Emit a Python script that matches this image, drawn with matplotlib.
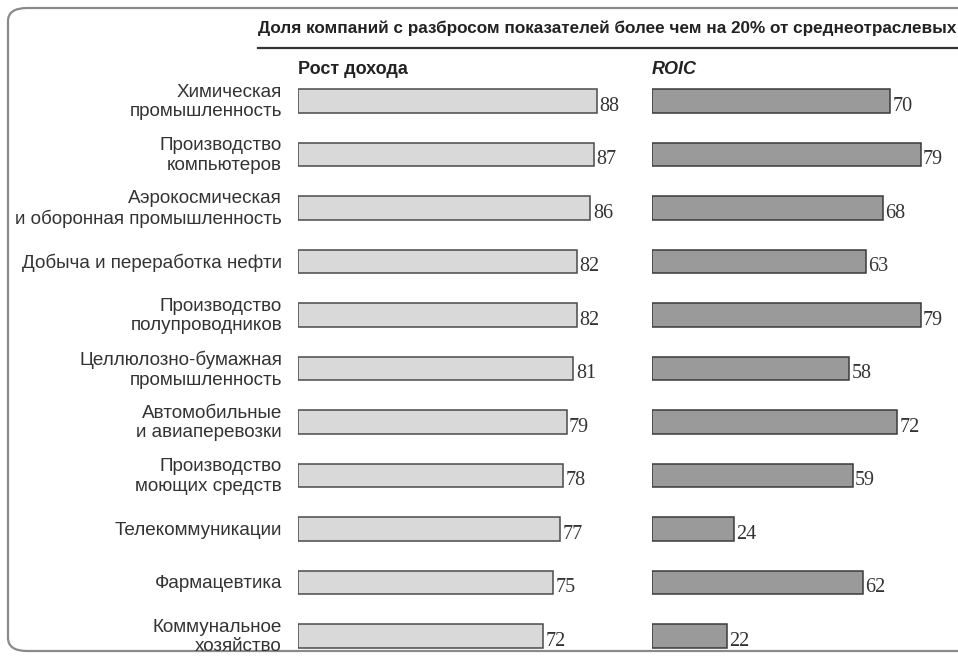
import matplotlib
matplotlib.use("Agg")
from matplotlib import pyplot as plt
from matplotlib.patches import FancyBboxPatch
from matplotlib.transforms import blended_transform_factory

industries = [
    "Химическая\nпромышленность",
    "Производство\nкомпьютеров",
    "Аэрокосмическая\nи оборонная промышленность",
    "Добыча и переработка нефти",
    "Производство\nполупроводников",
    "Целлюлозно-бумажная\nпромышленность",
    "Автомобильные\nи авиаперевозки",
    "Производство\nмоющих средств",
    "Телекоммуникации",
    "Фармацевтика",
    "Коммунальное\nхозяйство",
]
revenue_growth = [88, 87, 86, 82, 82, 81, 79, 78, 77, 75, 72]
roic = [70, 79, 68, 63, 79, 58, 72, 59, 24, 62, 22]

title = "Доля компаний с разбросом показателей более чем на 20% от среднеотраслевых"
panel_titles = ["Рост дохода", "ROIC"]

W, H = 958, 658
label_font = ["Liberation Sans", "DejaVu Sans"]
num_font = ["Liberation Serif", "DejaVu Serif"]

fig = plt.figure(figsize=(W / 100, H / 100), dpi=100)
fig.patch.set_facecolor("white")

# рамка со скруглёнными углами
frame = FancyBboxPatch((8 / W, 7 / H), 1.2, (651 - 8) / H,
                       boxstyle="round,pad=0,rounding_size=0.02",
                       transform=fig.transFigure, fill=False,
                       edgecolor="#8a8a8a", linewidth=1.6, clip_on=False)
fig.patches.append(frame)

# пиксельная геометрия
px_per_unit = 3.4
row_top, row_step = 101, 53.5
ax_top_px, ax_bot_px = 88, 650
y_lo = -(row_top - ax_top_px) / row_step
y_hi = (ax_bot_px - row_top) / row_step
n = len(industries)

def make_ax(left_px, xmax):
    width_px = xmax * px_per_unit
    ax = fig.add_axes([left_px / W, 1 - ax_bot_px / H, width_px / W,
                       (ax_bot_px - ax_top_px) / H])
    ax.set_xlim(0, xmax)
    ax.set_ylim(y_hi, y_lo)
    ax.axis("off")
    return ax

ax1 = make_ax(298, 100)
ax2 = make_ax(652, 90)

ys = list(range(n))
ax1.barh(ys, revenue_growth, height=0.43, left=0, color="#d9d9d9",
         edgecolor="#4a4a4a", linewidth=1.1)
ax2.barh(ys, roic, height=0.43, left=0, color="#9a9a9a",
         edgecolor="#3a3a3a", linewidth=1.1)

for ax, vals in ((ax1, revenue_growth), (ax2, roic)):
    for y, v in zip(ys, vals):
        ax.text(v + 0.7, y + 0.1, str(v), va="center", ha="left",
                fontsize=14.5, family=num_font, color="#333333", clip_on=False)

trans = blended_transform_factory(fig.transFigure, ax1.transData)
for y, lab in zip(ys, industries):
    fig.text(282 / W, y + 0.02, lab, transform=trans, ha="right", va="center",
             fontsize=13.6, family=label_font, color="#333333",
             linespacing=1.2)

fig.text(298 / W, 1 - 70 / H, panel_titles[0], ha="left", va="center",
         fontsize=13, family=label_font, fontweight="bold", color="#222222")
fig.text(652 / W, 1 - 70 / H, panel_titles[1], ha="left", va="center",
         fontsize=13, family=label_font, fontweight="bold",
         fontstyle="italic", color="#222222")

fig.text(258 / W, 1 - 28 / H, title, ha="left", va="center",
         fontsize=12.3, family=label_font, fontweight="bold", color="#222222")
fig.add_artist(plt.Line2D([258 / W, 1.0], [1 - 48 / H, 1 - 48 / H],
                          transform=fig.transFigure, color="#333333",
                          linewidth=1.6))

fig.savefig("out.png", dpi=100)
